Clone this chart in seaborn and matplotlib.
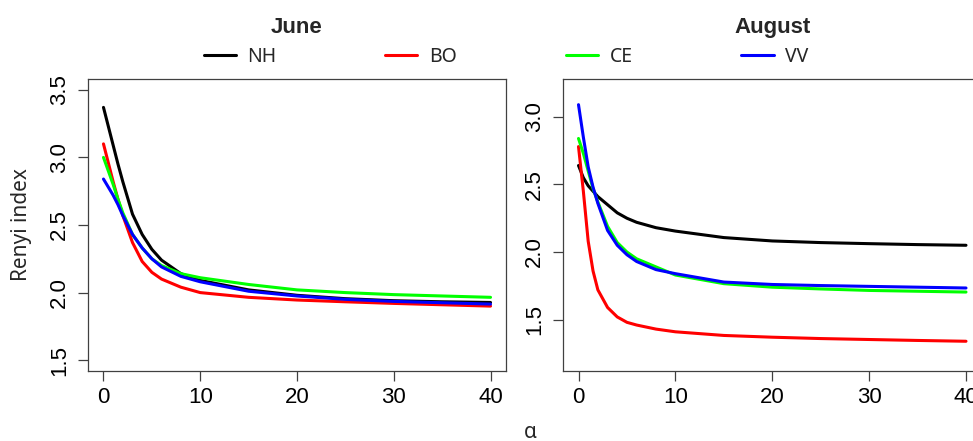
import matplotlib
matplotlib.use("Agg")
import pandas as pd
import seaborn as sns
from matplotlib import pyplot as plt
from matplotlib.lines import Line2D

SITES = ["NH", "BO", "CE", "VV"]
COLORS = ["#000000", "#ff0000", "#00ff00", "#0000ff"]

JUNE_ALPHA = [0, 0.5, 1, 1.5, 2, 3, 4, 5, 6, 8, 10, 15, 20, 25, 30, 35, 40]
JUNE_NH = [3.37, 3.23, 3.09, 2.95, 2.82, 2.58, 2.43, 2.32, 2.24, 2.14, 2.09, 2.02, 1.98, 1.955, 1.94, 1.932, 1.927]
JUNE_BO = [3.10, 2.96, 2.82, 2.69, 2.57, 2.37, 2.23, 2.15, 2.10, 2.04, 2.00, 1.965, 1.945, 1.932, 1.92, 1.91, 1.90]
JUNE_CE = [3.00, 2.90, 2.80, 2.69, 2.59, 2.43, 2.33, 2.25, 2.20, 2.14, 2.11, 2.06, 2.02, 2.00, 1.985, 1.975, 1.965]
JUNE_VV = [2.84, 2.78, 2.72, 2.65, 2.57, 2.43, 2.33, 2.25, 2.19, 2.12, 2.08, 2.01, 1.975, 1.95, 1.935, 1.925, 1.915]

AUG_ALPHA = [0, 0.5, 1, 1.5, 2, 3, 4, 5, 6, 8, 10, 15, 20, 25, 30, 35, 40]
AUG_NH = [2.64, 2.55, 2.49, 2.45, 2.41, 2.35, 2.29, 2.25, 2.22, 2.18, 2.155, 2.107, 2.082, 2.07, 2.062, 2.055, 2.05]
AUG_BO = [2.78, 2.45, 2.08, 1.86, 1.72, 1.59, 1.52, 1.48, 1.46, 1.43, 1.41, 1.383, 1.37, 1.36, 1.353, 1.346, 1.34]
AUG_CE = [2.84, 2.73, 2.60, 2.47, 2.37, 2.19, 2.07, 2.00, 1.95, 1.89, 1.83, 1.766, 1.74, 1.727, 1.716, 1.71, 1.704]
AUG_VV = [3.09, 2.85, 2.63, 2.48, 2.36, 2.16, 2.05, 1.98, 1.93, 1.87, 1.84, 1.778, 1.76, 1.752, 1.746, 1.74, 1.734]

X_TICKS = [0, 10, 20, 30, 40]
JUNE_Y_TICKS = [1.5, 2.0, 2.5, 3.0, 3.5]
AUG_Y_TICKS = [1.5, 2.0, 2.5, 3.0]


def long_frame(alpha, series):
    rows = []
    for site, values in zip(SITES, series):
        for a, v in zip(alpha, values):
            rows.append({"alpha": a, "renyi": v, "site": site})
    return pd.DataFrame(rows)


june = long_frame(JUNE_ALPHA, [JUNE_NH, JUNE_BO, JUNE_CE, JUNE_VV])
august = long_frame(AUG_ALPHA, [AUG_NH, AUG_BO, AUG_CE, AUG_VV])

sns.set_style("ticks")
plt.rcParams["font.family"] = ["Liberation Sans", "DejaVu Sans"]
SEGOE = ["Noto Sans", "DejaVu Sans"]
EDGE = "#404040"

fig = plt.figure(figsize=(9.73, 4.41), dpi=100)
W, H = 973, 441


def axes_px(x0, x1, y0, y1):
    return fig.add_axes([x0 / W, 1 - y1 / H, (x1 - x0) / W, (y1 - y0) / H])


ax1 = axes_px(88, 506, 79, 371)
ax2 = axes_px(563, 981.5, 79, 371)

panels = [
    (ax1, june, "June", (1.42, 3.58), JUNE_Y_TICKS),
    (ax2, august, "August", (1.12, 3.28), AUG_Y_TICKS),
]

for ax, df, title, ylim, yticks in panels:
    sns.lineplot(
        data=df, x="alpha", y="renyi", hue="site", hue_order=SITES,
        palette=dict(zip(SITES, COLORS)), estimator=None, legend=False,
        linewidth=2.2, ax=ax,
    )
    for line in ax.get_lines():
        line.set_solid_capstyle("round")
        line.set_solid_joinstyle("round")
    ax.set_xlim(-1.6, 41.6)
    ax.set_ylim(*ylim)
    ax.set_xticks(X_TICKS)
    ax.set_yticks(yticks)
    ax.set_xticklabels([str(t) for t in X_TICKS])
    ax.set_yticklabels([f"{t:.1f}" for t in yticks])
    ax.tick_params(axis="both", direction="out", length=7.2, width=0.9,
                   color=EDGE, labelsize=16, labelcolor="black")
    ax.tick_params(axis="x", pad=4.5)
    ax.tick_params(axis="y", pad=5.5, labelrotation=90)
    plt.setp(ax.get_yticklabels(), va="center")
    for sp in ax.spines.values():
        sp.set_visible(True)
        sp.set_color(EDGE)
        sp.set_linewidth(0.9)
    ax.set_xlabel("")
    ax.set_ylabel("")
    ax.set_title(title, fontsize=16, fontweight="bold", pad=33)

ax1.set_ylabel("Renyi index", fontsize=15, family=SEGOE, va="center")
ax1.yaxis.set_label_coords((22 - 88) / 418, 0.5)

fig.text(530 / W, 1 - 432 / H, "α", fontsize=15, family=SEGOE,
         ha="center", va="center")

handles = [Line2D([], [], color=c, linewidth=2.2) for c in COLORS]
fig.legend(
    handles, SITES, loc="center", bbox_to_anchor=(506 / W, 1 - 57 / H),
    ncol=4, frameon=False, prop={"family": SEGOE, "size": 14},
    handlelength=1.65, handletextpad=0.6, columnspacing=5.6,
)

fig.savefig("out.png", dpi=100)
